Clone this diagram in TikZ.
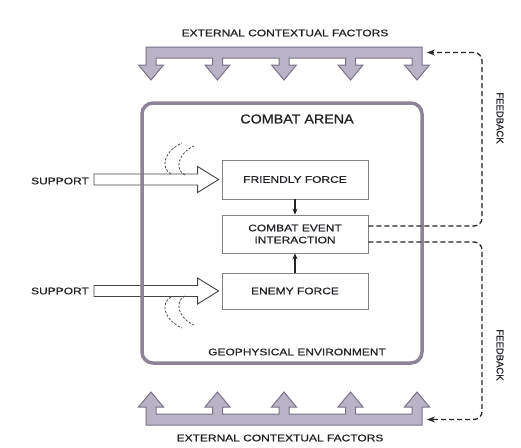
\documentclass[tikz,border=0pt]{standalone}
\usepackage{fontspec}
\setmainfont{Liberation Sans}
\newfontfamily\lblfont{Liberation Sans}[FakeBold=0.7]
\usepackage{graphicx}
\usetikzlibrary{arrows.meta,calc}

\definecolor{barfill}{RGB}{186,179,199}
\definecolor{barline}{RGB}{122,113,138}
\definecolor{arenaline}{RGB}{140,131,153}
\definecolor{boxline}{RGB}{130,130,130}
\definecolor{ink}{RGB}{35,35,40}

% horizontally stretched capitals
\newcommand\wide[1]{\scalebox{1.26}[1]{#1}}

% outline of a bar with five block arrows hanging from it
\newcommand\factorbarpath{%
  (146,47) -- (422,47) -- (422,65) -- (429.5,65) -- (417,80) -- (404.5,65) -- (412,65) -- (412,58)
  -- (355.5,58) -- (355.5,65) -- (363,65) -- (350.5,80) -- (338,65) -- (345.5,65) -- (345.5,58)
  -- (289,58) -- (289,65) -- (296.5,65) -- (284,80) -- (271.5,65) -- (279,65) -- (279,58)
  -- (222.5,58) -- (222.5,65) -- (230,65) -- (217.5,80) -- (205,65) -- (212.5,65) -- (212.5,58)
  -- (156,58) -- (156,65) -- (163.5,65) -- (151,80) -- (138.5,65) -- (146,65) -- cycle}

\tikzset{
  lbl/.style={font=\lblfont\fontsize{9.5}{12}\selectfont, text=ink, inner sep=0pt},
  unit/.style={draw=boxline, line width=0.8pt, fill=white, minimum width=146pt,
    inner sep=0pt, align=center, font=\lblfont\fontsize{9.5}{12}\selectfont, text=ink},
  factorbar/.style={fill=barfill, draw=barline, line width=1pt, line join=miter},
  fb/.style={draw=ink, line width=1.3pt, dash pattern=on 5pt off 3pt, rounded corners=8pt,
    -{Stealth[length=8pt,width=6pt]}},
  wake/.style={draw=ink!80, line width=0.8pt, dash pattern=on 2.5pt off 1.5pt},
  supportarrow/.style={fill=white, draw=ink!85, line width=0.9pt},
  link/.style={draw=ink, line width=1.2pt, -{Stealth[length=6pt,width=5pt]}},
}

\begin{document}
\begin{tikzpicture}[x=1pt,y=-1pt]
\useasboundingbox (0,0) rectangle (521,447);
\fill[white] (0,0) rectangle (521,447);

% external factor bars (top and mirrored bottom)
\path[factorbar] \factorbarpath;
\begin{scope}[yshift=-472pt,yscale=-1]
  \path[factorbar] \factorbarpath;
\end{scope}

% texts
\node[lbl] (extT) at (285,33) {\wide{EXTERNAL CONTEXTUAL FACTORS}};
\node[lbl] (extB) at (280,438) {\wide{EXTERNAL CONTEXTUAL FACTORS}};
\node[font=\lblfont\fontsize{13}{15}\selectfont, text=ink, inner sep=0pt] (title) at (297,119)
  {\scalebox{1.1}[1]{COMBAT ARENA}};
\node[lbl] (geo) at (297,352) {\wide{GEOPHYSICAL ENVIRONMENT}};
\node[lbl, rotate=-90] (fbT) at (500,118) {FEEDBACK};
\node[lbl, rotate=-90] (fbB) at (500,355) {FEEDBACK};

% force boxes
\node[unit, minimum height=39pt] (ff) at (295,179.5) {\wide{FRIENDLY FORCE}};
\node[unit, minimum height=38pt] (cev) at (295,234) {\wide{COMBAT EVENT}\\\wide{INTERACTION}};
\node[unit, minimum height=36pt] (ef) at (295,291) {\wide{ENEMY FORCE}};

\draw[link] (ff) -- (cev);
\draw[link] (ef) -- (cev);

% support inputs
\node[lbl, anchor=east] (sup1) at (89,181) {\wide{SUPPORT}};
\node[lbl, anchor=east] (sup2) at (89,291) {\wide{SUPPORT}};

\path[supportarrow]
  ($(sup1.east |- ff.west)+(5,5.5)$) -- ($(ff.west)+(-24,5.5)$) -- ($(ff.west)+(-24,13)$)
  -- ($(ff.west)+(-3,0)$) -- ($(ff.west)+(-24,-13)$) -- ($(ff.west)+(-24,-5.5)$)
  -- ($(sup1.east |- ff.west)+(5,-5.5)$) -- cycle;
\path[supportarrow]
  ($(sup2.east |- ef.west)+(5,5.5)$) -- ($(ef.west)+(-24,5.5)$) -- ($(ef.west)+(-24,13)$)
  -- ($(ef.west)+(-3,0)$) -- ($(ef.west)+(-24,-13)$) -- ($(ef.west)+(-24,-5.5)$)
  -- ($(sup2.east |- ef.west)+(5,-5.5)$) -- cycle;

% wake marks beside the support arrows
\draw[wake] (171,174) .. controls (160,168) and (164,151) .. (182,143);
\draw[wake] (185,175) .. controls (174,170) and (178,153) .. (194,146);
\draw[wake] (171,297) .. controls (160,303) and (164,320) .. (182,328);
\draw[wake] (185,296) .. controls (174,301) and (178,318) .. (194,325);

% combat arena frame
\node[draw=arenaline, line width=3.5pt, rounded corners=11pt, minimum width=280pt,
  minimum height=260pt, inner sep=0pt] (arena) at (282,233) {};

% feedback loops
\coordinate (fbr) at (482,0);
\coordinate (topin) at (427,52.5);
\coordinate (botin) at (427,419.5);
\draw[fb] ([yshift=8pt]cev.east) -| (fbr |- topin) -- (topin);
\draw[fb] ([yshift=-8pt]cev.east) -| (fbr |- botin) -- (botin);
\end{tikzpicture}
\end{document}
